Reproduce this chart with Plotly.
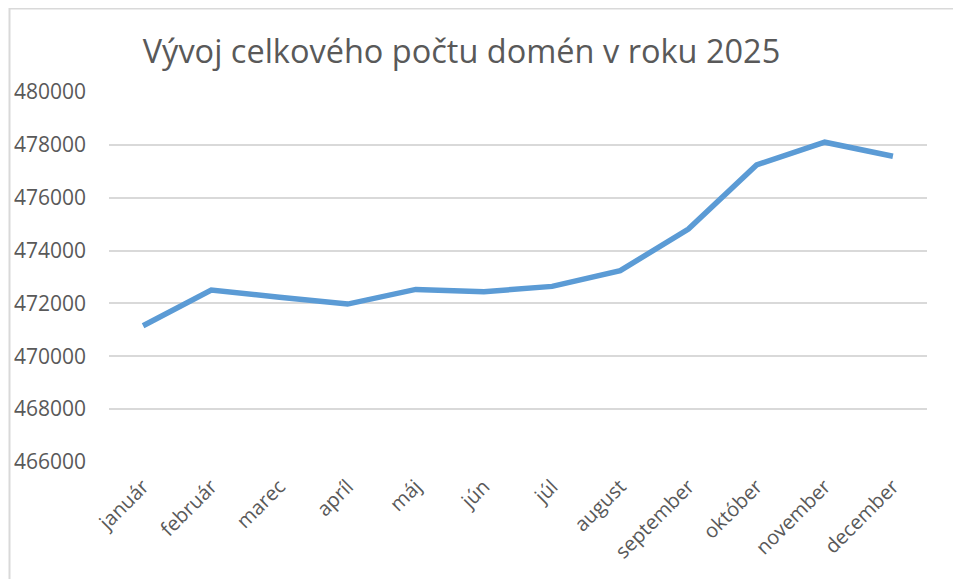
import plotly.graph_objects as go

months = ["január", "február", "marec", "apríl", "máj", "jún", "júl",
          "august", "september", "október", "november", "december"]
domains = [471155, 472510, 472230, 471975, 472530, 472445, 472645,
           473240, 474815, 477240, 478100, 477570]
y_ticks = [466000, 468000, 470000, 472000, 474000, 476000, 478000, 480000]
title_text = "Vývoj celkového počtu domén v roku 2025"

# page body has an 8px margin; figure coordinates are window minus 8
OFF = 8
W, H = 961 - OFF, 579 - OFF
ml, mt = 109 - OFF, 92 - OFF
mr = W - (927 - OFF)
mb = H - (462 - OFF)
pw, ph = W - ml - mr, H - mt - mb

def px_x(p):
    return (p - OFF - ml) / pw

def px_y(p):
    return (H - mb - (p - OFF)) / ph

fig = go.Figure()
fig.add_trace(go.Scatter(
    x=list(range(len(months))), y=domains, mode="lines",
    line=dict(color="#5B9BD5", width=5.5), hoverinfo="x+y"))

fig.update_layout(
    width=W, height=H,
    margin=dict(l=ml, r=mr, t=mt, b=mb, autoexpand=False),
    paper_bgcolor="white", plot_bgcolor="white",
    showlegend=False,
    font=dict(family="Open Sans", color="#595959"),
    title=dict(text=title_text, x=(461.5 - OFF) / W, xanchor="center",
               y=1 - (52 - OFF) / H, yanchor="middle",
               font=dict(size=32.5, color="#595959", family="Open Sans")),
    xaxis=dict(
        range=[-0.5, len(months) - 0.5], automargin=False,
        tickmode="array", tickvals=list(range(len(months))), ticktext=months,
        tickangle=-45, tickfont=dict(size=20, color="#595959"),
        showgrid=False, zeroline=False, showline=False, ticks="",
        ticklabelstandoff=8),
    yaxis=dict(
        range=[466000, 480000], automargin=False,
        tickmode="array", tickvals=y_ticks,
        ticktext=[str(v) for v in y_ticks],
        tickfont=dict(size=21, color="#595959"),
        showgrid=True, gridcolor="#D9D9D9", gridwidth=2,
        zeroline=False, showline=False, ticks="",
        ticklabelstandoff=22),
    shapes=[dict(type="rect", xref="paper", yref="paper",
                 x0=px_x(9.5), x1=px_x(1000), y0=px_y(620), y1=px_y(8.5),
                 line=dict(color="#D9D9D9", width=2), layer="below")],
)

fig.write_html("out.html")
